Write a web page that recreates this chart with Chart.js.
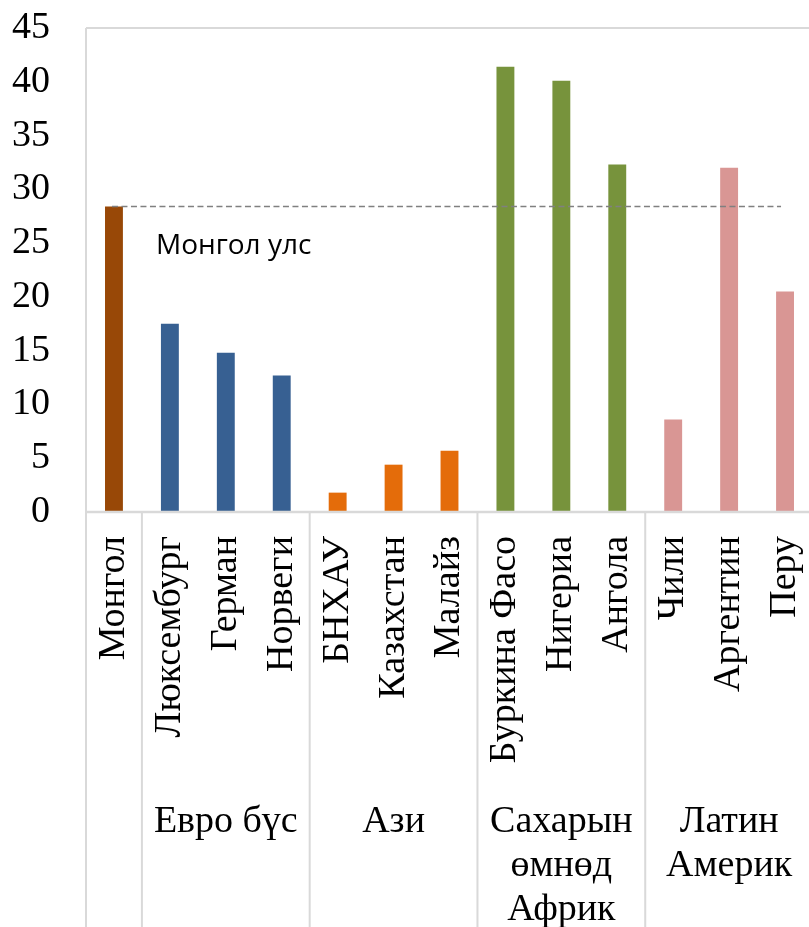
<!DOCTYPE html>
<html><head><meta charset="utf-8">
<script src="https://cdn.jsdelivr.net/npm/chart.js@4/dist/chart.umd.min.js"></script>
<style>
html,body{margin:0;padding:0;overflow:hidden;background:#fff;width:809px;height:927px}
#wrap{position:relative;width:813px;height:927px}
canvas{display:block}
</style></head>
<body><div id="wrap"><canvas id="c" width="813" height="927"></canvas></div>
<script>
const categories = ["Монгол","Люксембург","Герман","Норвеги","БНХАУ","Казахстан","Малайз","Буркина Фасо","Нигериа","Ангола","Чили","Аргентин","Перу"];
const values = [28.4, 17.5, 14.8, 12.7, 1.8, 4.4, 5.7, 41.4, 40.1, 32.3, 8.6, 32.0, 20.5];
const barColors = ["#984807","#376092","#376092","#376092","#E46C0A","#E46C0A","#E46C0A","#77933C","#77933C","#77933C","#D99694","#D99694","#D99694"];
const groupLabels = [[], ["Евро бүс"], ["Ази"], ["Сахарын","өмнөд","Африк"], ["Латин","Америк"]];
const groupSizes = [1, 3, 3, 3, 3];
const yMin = 0, yMax = 45, yStep = 5;
const referenceIndex = 0;
const referenceLabel = "Монгол улс";

const SERIF = "'Liberation Serif', 'Times New Roman', serif";
const AXIS_COLOR = "#d9d9d9";

const decorations = {
  id: 'decorations',
  afterDatasetsDraw(chart) {
    const {ctx, chartArea: a, scales: {x, y}} = chart;
    const H = chart.height;
    ctx.save();
    ctx.strokeStyle = AXIS_COLOR;
    ctx.lineWidth = 2;
    ctx.beginPath();
    ctx.moveTo(a.left, a.top); ctx.lineTo(a.right, a.top);
    ctx.moveTo(a.left, a.top); ctx.lineTo(a.left, H);
    ctx.stroke();
    ctx.lineWidth = 2.5;
    ctx.beginPath();
    ctx.moveTo(a.left, a.bottom); ctx.lineTo(a.right, a.bottom);
    ctx.stroke();
    const half = (x.getPixelForValue(1) - x.getPixelForValue(0)) / 2;
    let idx = 0;
    ctx.font = "38px " + SERIF;
    ctx.fillStyle = "#000";
    ctx.textAlign = "center";
    ctx.textBaseline = "alphabetic";
    groupSizes.forEach((n, g) => {
      const first = idx, last = idx + n - 1;
      if (g > 0) {
        const sx = x.getPixelForValue(first) - half;
        ctx.strokeStyle = AXIS_COLOR;
        ctx.lineWidth = 2;
        ctx.beginPath(); ctx.moveTo(sx, a.bottom); ctx.lineTo(sx, H); ctx.stroke();
      }
      const cx = (x.getPixelForValue(first) + x.getPixelForValue(last)) / 2;
      groupLabels[g].forEach((t, k) => {
        ctx.fillText(t, cx, a.bottom + 320 + k * 44);
      });
      idx += n;
    });
    const ry = y.getPixelForValue(values[referenceIndex]);
    ctx.strokeStyle = "#808080";
    ctx.lineWidth = 1.5;
    ctx.setLineDash([6, 3.5]);
    ctx.beginPath();
    ctx.moveTo(x.getPixelForValue(0) - 2, ry);
    ctx.lineTo(x.getPixelForValue(categories.length - 1) - 4, ry);
    ctx.stroke();
    ctx.setLineDash([]);
    ctx.font = "28px 'Open Sans', sans-serif";
    ctx.textAlign = "left";
    ctx.fillStyle = "#000";
    ctx.fillText(referenceLabel, x.getPixelForValue(0) + 42, ry + 47);
    ctx.restore();
  }
};

new Chart(document.getElementById('c'), {
  type: 'bar',
  data: {
    labels: categories,
    datasets: [{
      data: values,
      backgroundColor: barColors,
      borderWidth: 0,
      barPercentage: 0.32,
      categoryPercentage: 1
    }]
  },
  options: {
    responsive: false,
    animation: false,
    devicePixelRatio: 1,
    layout: { padding: { top: 28, right: 0, bottom: 0, left: 0 } },
    plugins: { legend: { display: false }, tooltip: { enabled: false } },
    scales: {
      y: {
        min: yMin, max: yMax,
        grid: { display: false, drawTicks: false },
        border: { display: false },
        ticks: { stepSize: yStep, padding: 36, color: "#000", font: { family: SERIF, size: 38 } },
        afterFit(s) { s.width = 86; s.paddingTop = 0; s.paddingBottom = 0; s.paddingLeft = 0; s.paddingRight = 0; }
      },
      x: {
        grid: { display: false, drawTicks: false },
        border: { display: false },
        ticks: { minRotation: 90, maxRotation: 90, autoSkip: false, padding: 24, color: "#000", font: { family: SERIF, size: 38 } },
        afterFit(s) { s.height = 415; s.paddingTop = 0; s.paddingBottom = 0; s.paddingLeft = 0; s.paddingRight = 0; }
      }
    }
  },
  plugins: [decorations]
});
</script>
</body></html>
